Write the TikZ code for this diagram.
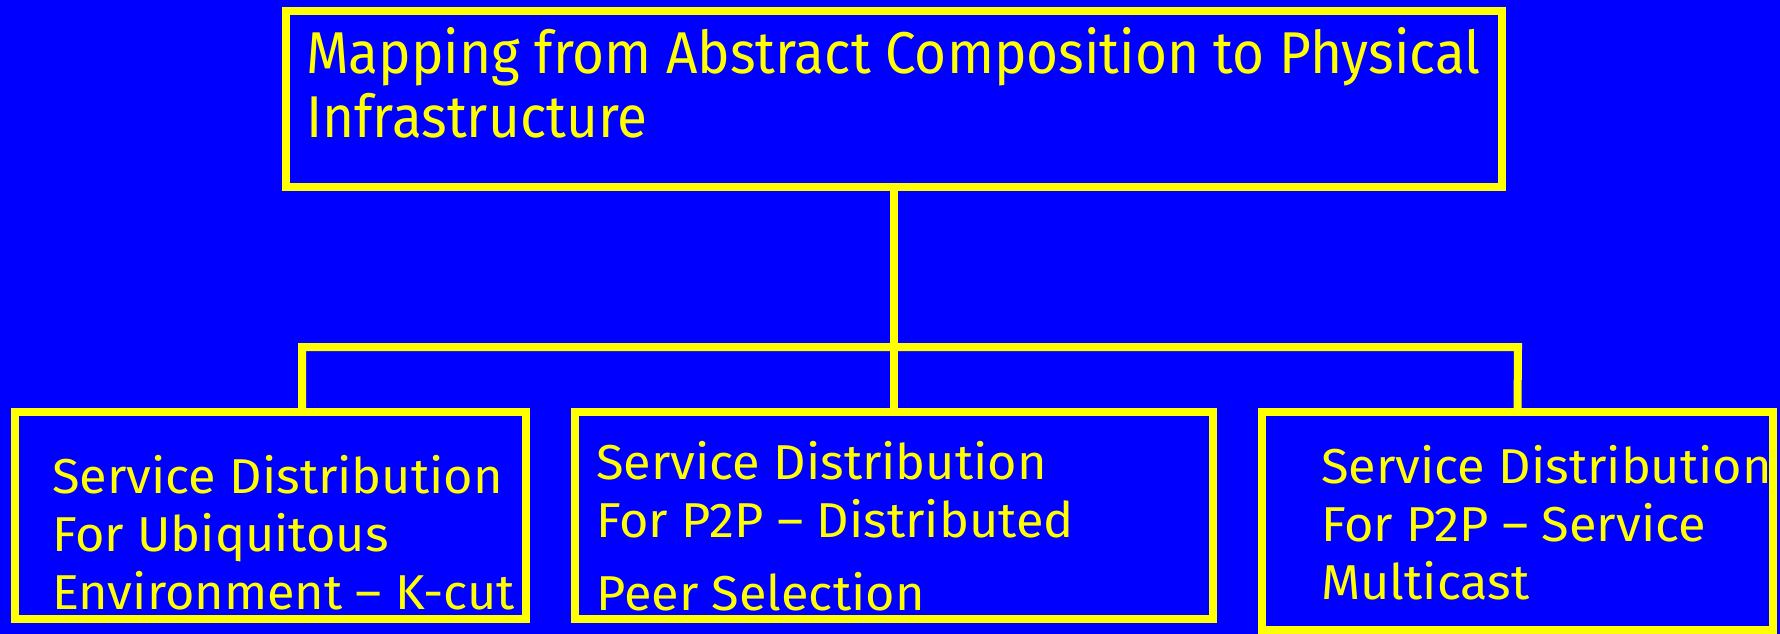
\documentclass[tikz,border=0pt]{standalone}
\usepackage{fontspec}
\setmainfont{Fira Sans}
\newfontfamily\headfont[FakeStretch=0.93]{Fira Sans}
\newfontfamily\leaffont[FakeStretch=1.03]{Fira Sans}
\usepackage{tikz}

\definecolor{slideblue}{RGB}{0,0,255}
\definecolor{slideyellow}{RGB}{255,255,0}

\begin{document}
\begin{tikzpicture}[x=1pt,y=-1pt]
            \tikzstyle{box}=[draw=slideyellow,line width=8pt,fill=slideblue,inner sep=0pt]
            \tikzstyle{wire}=[draw=slideyellow,line width=8pt]
            \tikzstyle{txt}=[text=slideyellow,align=left,inner sep=0pt,anchor=base west]
            \tikzstyle{leaf}=[txt,font=\leaffont\fontsize{49}{58}\selectfont]
            \fill[slideblue] (0,0) rectangle (1780,634);
            \useasboundingbox (0,0) rectangle (1780,634);
            % boxes
            \node[box,minimum width=1216pt,minimum height=176pt] (top) at (894,99) {};
            \node[box,minimum width=511pt,minimum height=207pt] (lft) at (270.5,515.5) {};
            \node[box,minimum width=638pt,minimum height=207pt] (mid) at (894,515.5) {};
            \node[box,minimum width=511pt,minimum height=218pt] (rgt) at (1517.5,521) {};
            % connectors
            \coordinate (busL) at (302,347);
            \coordinate (busR) at (1518,347);
            \draw[wire] (top.south) -- (mid.north);
            \draw[wire] (lft.north -| busL) -- (busL) -- (busR) -- (rgt.north);
            % texts (placed at the baseline of their last line)
            \node[txt,font=\headfont\fontsize{59}{64}\selectfont] (toptxt) at (306,137)
                {Mapping from Abstract Composition to Physical\\Infrastructure};
            \node[leaf] (lfttxt) at (52,609)
                {Service Distribution\\For Ubiquitous\\Environment – K-cut};
            \node[leaf] (midtxt) at (596,610)
                {Service Distribution\\For P2P – Distributed\\[15pt]Peer Selection};
            \node[leaf] (rgttxt) at (1321,599)
                {Service Distribution\\For P2P – Service\\Multicast};
        \end{tikzpicture}
\end{document}
